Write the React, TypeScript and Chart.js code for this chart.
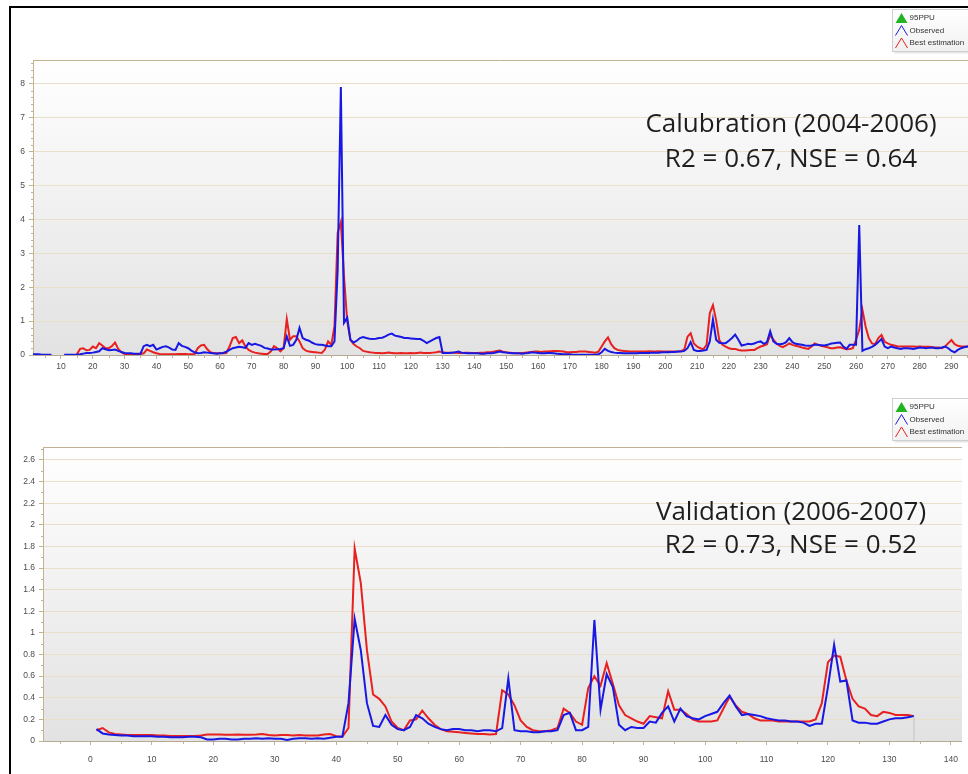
import React, { useEffect, useRef } from "react";
import { Chart, registerables } from "chart.js";

Chart.register(...registerables);

// ---------- Calibration (2004-2006), day 1..296 ----------
const calObserved: (number | null)[] = [
  0.02, 0.02, 0.02, 0.01, 0.01, 0.01, 0.01, null, null, null,
  0.01, 0.01, 0.01, 0.01, 0.01, 0.02, 0.04, 0.06, 0.06, 0.07,
  0.09, 0.11, 0.2, 0.17, 0.14, 0.15, 0.16, 0.12, 0.09, 0.06,
  0.05, 0.05, 0.04, 0.04, 0.04, 0.26, 0.3, 0.26, 0.3, 0.16,
  0.2, 0.24, 0.26, 0.22, 0.16, 0.15, 0.35, 0.27, 0.24, 0.2,
  0.13, 0.08, 0.05, 0.06, 0.08, 0.07, 0.06, 0.05, 0.04, 0.05,
  0.06, 0.1, 0.15, 0.2, 0.22, 0.24, 0.23, 0.21, 0.35, 0.3,
  0.33, 0.3, 0.27, 0.21, 0.19, 0.16, 0.16, 0.17, 0.18, 0.2,
  0.55, 0.27, 0.3, 0.45, 0.8, 0.5, 0.45, 0.42, 0.36, 0.32,
  0.3, 0.3, 0.28, 0.26, 0.26, 0.4, 2.5, 7.9, 0.95, 1.1,
  0.45, 0.37, 0.42, 0.5, 0.53, 0.5, 0.48, 0.47, 0.48, 0.5,
  0.51, 0.55, 0.6, 0.63, 0.57, 0.55, 0.53, 0.5, 0.5, 0.49,
  0.48, 0.47, 0.47, 0.42, 0.35, 0.4, 0.45, 0.5, 0.53, 0.06,
  0.06, 0.06, 0.07, 0.08, 0.1, 0.07, 0.06, 0.05, 0.05, 0.05,
  0.05, 0.04, 0.04, 0.05, 0.05, 0.06, 0.08, 0.1, 0.08, 0.07,
  0.06, 0.05, 0.05, 0.05, 0.04, 0.05, 0.06, 0.08, 0.07, 0.06,
  0.05, 0.05, 0.06, 0.06, 0.05, 0.04, 0.03, 0.02, 0.02, 0.02,
  0.01, 0.01, 0.01, 0.01, 0.01, 0.01, 0.01, 0.01, 0.02, 0.08,
  0.18, 0.12, 0.09, 0.07, 0.06, 0.06, 0.05, 0.05, 0.05, 0.05,
  0.05, 0.06, 0.06, 0.06, 0.06, 0.07, 0.07, 0.07, 0.08, 0.08,
  0.08, 0.09, 0.09, 0.1, 0.1, 0.12, 0.2, 0.38, 0.15, 0.12,
  0.12, 0.13, 0.15, 0.4, 1.05, 0.45, 0.36, 0.35, 0.35, 0.42,
  0.5, 0.6, 0.45, 0.28, 0.3, 0.33, 0.32, 0.34, 0.38, 0.4,
  0.33, 0.38, 0.7, 0.4, 0.33, 0.32, 0.33, 0.38, 0.5, 0.38,
  0.33, 0.32, 0.3, 0.28, 0.27, 0.28, 0.3, 0.3, 0.29, 0.28,
  0.3, 0.33, 0.35, 0.36, 0.37, 0.25, 0.18, 0.3, 0.3, 0.3,
  3.83, 0.12, 0.17, 0.2, 0.24, 0.3, 0.38, 0.47, 0.25, 0.2,
  0.25, 0.22, 0.2, 0.18, 0.2, 0.2, 0.19, 0.18, 0.2, 0.22,
  0.21, 0.2, 0.21, 0.22, 0.2, 0.2, 0.22, 0.25, 0.2, 0.12,
  0.08, 0.15, 0.2, 0.23, 0.25, 0.25,
];

const calBest: (number | null)[] = [
  null, null, null, null, null, null, null, null, null, null,
  null, null, null, null, 0.02, 0.18, 0.2, 0.14, 0.15, 0.25,
  0.2, 0.35, 0.28, 0.2, 0.2, 0.26, 0.37, 0.18, 0.08, 0.03,
  0.03, 0.03, 0.03, 0.03, 0.03, 0.05, 0.16, 0.12, 0.08, 0.05,
  0.03, 0.02, 0.02, 0.02, 0.02, 0.02, 0.03, 0.03, 0.03, 0.02,
  0.02, 0.03, 0.2, 0.28, 0.3, 0.17, 0.08, 0.05, 0.05, 0.05,
  0.05, 0.06, 0.25, 0.5, 0.53, 0.35, 0.43, 0.25, 0.15, 0.1,
  0.07, 0.05, 0.04, 0.03, 0.03, 0.11, 0.26, 0.2, 0.11, 0.2,
  1.06, 0.45, 0.55, 0.55, 0.4, 0.2, 0.13, 0.1, 0.09, 0.08,
  0.07, 0.06, 0.16, 0.4, 0.3, 0.85, 3.6, 3.92, 2.3, 1.0,
  0.45, 0.32, 0.25, 0.2, 0.12, 0.1, 0.08, 0.07, 0.06, 0.06,
  0.05, 0.06, 0.07, 0.06, 0.05, 0.05, 0.06, 0.05, 0.05, 0.06,
  0.05, 0.06, 0.07, 0.06, 0.06, 0.06, 0.07, 0.08, 0.1, 0.08,
  0.07, 0.07, 0.07, 0.07, 0.06, 0.06, 0.07, 0.07, 0.06, 0.06,
  0.06, 0.07, 0.07, 0.08, 0.08, 0.1, 0.12, 0.13, 0.1, 0.08,
  0.07, 0.06, 0.05, 0.05, 0.06, 0.07, 0.08, 0.09, 0.1, 0.1,
  0.09, 0.1, 0.1, 0.11, 0.12, 0.12, 0.11, 0.1, 0.08, 0.08,
  0.09, 0.09, 0.1, 0.1, 0.1, 0.09, 0.08, 0.07, 0.1, 0.25,
  0.4, 0.52, 0.32, 0.2, 0.15, 0.13, 0.12, 0.11, 0.1, 0.1,
  0.1, 0.1, 0.1, 0.1, 0.11, 0.1, 0.1, 0.11, 0.1, 0.1,
  0.1, 0.1, 0.1, 0.1, 0.12, 0.16, 0.54, 0.64, 0.34, 0.25,
  0.2, 0.17, 0.3, 1.23, 1.47, 1.03, 0.44, 0.3, 0.25, 0.2,
  0.18, 0.18, 0.15, 0.13, 0.13, 0.14, 0.15, 0.15, 0.2, 0.25,
  0.28, 0.32, 0.59, 0.45, 0.34, 0.27, 0.23, 0.28, 0.34, 0.3,
  0.27, 0.25, 0.22, 0.2, 0.18, 0.25, 0.34, 0.3, 0.27, 0.25,
  0.23, 0.2, 0.2, 0.22, 0.23, 0.2, 0.17, 0.18, 0.2, 0.45,
  0.74, 1.33, 0.84, 0.5, 0.34, 0.32, 0.5, 0.59, 0.39, 0.34,
  0.3, 0.28, 0.26, 0.25, 0.25, 0.25, 0.25, 0.25, 0.24, 0.25,
  0.24, 0.24, 0.24, 0.23, 0.22, 0.22, 0.2, 0.25, 0.35, 0.44,
  0.32, 0.27, 0.25, 0.25, 0.25, 0.25,
];

// ---------- Validation (2006-2007), day 1..134 ----------
const valObserved: number[] = [
  0.11, 0.07, 0.06, 0.055, 0.05, 0.05, 0.045, 0.045, 0.045, 0.045,
  0.04, 0.04, 0.035, 0.035, 0.035, 0.04, 0.04, 0.035, 0.015, 0.015,
  0.02, 0.02, 0.015, 0.015, 0.02, 0.02, 0.025, 0.02, 0.025, 0.02,
  0.02, 0.01, 0.02, 0.025, 0.025, 0.02, 0.025, 0.02, 0.03, 0.04,
  0.04, 0.35, 1.13, 0.84, 0.35, 0.14, 0.13, 0.24, 0.15, 0.11,
  0.1, 0.13, 0.24, 0.21, 0.16, 0.13, 0.11, 0.1, 0.11, 0.11,
  0.1, 0.1, 0.09, 0.1, 0.1, 0.09, 0.12, 0.58, 0.1, 0.09,
  0.09, 0.08, 0.08, 0.09, 0.09, 0.1, 0.24, 0.26, 0.1, 0.1,
  0.13, 1.12, 0.29, 0.62, 0.5, 0.15, 0.1, 0.13, 0.12, 0.12,
  0.18, 0.17, 0.26, 0.32, 0.18, 0.3, 0.23, 0.21, 0.2, 0.23,
  0.25, 0.27, 0.35, 0.42, 0.32, 0.24, 0.25, 0.24, 0.23, 0.21,
  0.2, 0.19, 0.19, 0.18, 0.18, 0.17, 0.14, 0.16, 0.16, 0.5,
  0.89, 0.55, 0.56, 0.19, 0.17, 0.17, 0.16, 0.16, 0.18, 0.2,
  0.21, 0.21, 0.22, 0.23,
];

const valBest: number[] = [
  0.1, 0.12, 0.08, 0.065, 0.06, 0.055, 0.055, 0.055, 0.055, 0.055,
  0.05, 0.05, 0.046, 0.046, 0.046, 0.046, 0.046, 0.05, 0.06, 0.06,
  0.06, 0.058, 0.058, 0.06, 0.058, 0.058, 0.06, 0.065, 0.055, 0.052,
  0.055, 0.055, 0.052, 0.055, 0.052, 0.05, 0.052, 0.06, 0.065, 0.045,
  0.04, 0.12, 1.78, 1.46, 0.84, 0.43, 0.39, 0.32, 0.18, 0.12,
  0.1, 0.19, 0.2, 0.28, 0.21, 0.15, 0.11, 0.09, 0.085, 0.08,
  0.075, 0.07, 0.065, 0.065, 0.06, 0.065, 0.47, 0.43, 0.33, 0.19,
  0.13, 0.1, 0.09, 0.09, 0.1, 0.12, 0.3, 0.26, 0.18, 0.15,
  0.49, 0.6, 0.51, 0.72, 0.53, 0.33, 0.24, 0.21, 0.18, 0.16,
  0.23, 0.22, 0.21, 0.46, 0.29, 0.29, 0.25, 0.2, 0.18, 0.18,
  0.18, 0.19, 0.3, 0.41, 0.33, 0.27, 0.25, 0.21, 0.19, 0.19,
  0.19, 0.18, 0.18, 0.18, 0.18, 0.18, 0.18, 0.2, 0.35, 0.73,
  0.79, 0.78, 0.56, 0.39, 0.32, 0.3, 0.24, 0.23, 0.27, 0.26,
  0.24, 0.24, 0.24, 0.23,
];

// closing edge of the (very faint) 95PPU band in the validation panel
const valPpuEdgeDay = 134;
const valPpuEdge = [0, 0.23];

const legendNames = ["95PPU", "Observed", "Best estimation"];
const legendColors = ["#22b422", "#1818e4", "#e82020"];
const calTitle = ["Calubration (2004-2006)", "R2 = 0.67, NSE = 0.64"];
const valTitle = ["Validation (2006-2007)", "R2 = 0.73, NSE = 0.52"];

const BLUE = legendColors[1];
const RED = legendColors[2];
const PPU_EDGE = "#c4c4c4";
const GRID = "#e9dfca";
const TAN = "#c2b292";
const TICK_TEXT = "#4c4c4c";
const TICK_FONT = "'Liberation Sans', Arial, sans-serif";
const TITLE_FONT = "'Open Sans', 'Noto Sans', sans-serif";

type Spec = {
  observed: (number | null)[];
  best: (number | null)[];
  ppuDay: number | null;
  ppu: number[];
  xMin: number;
  xMax: number;
  xStep: number;
  xMinor: number;
  yMax: number;
  yStep: number;
  yMinor: number;
  padTop: number;
  yWidth: number;
  xHeight: number;
  xLabelPad: number;
  yLabelPad: number;
  title: string[];
  titleX: number;
  titleY: number;
  titleGap: number;
  legendTop: number;
};

const toPoints = (arr: (number | null)[]) => arr.map((v, i) => ({ x: i + 1, y: v }));

function isMultiple(v: number, step: number) {
  const r = v / step;
  return Math.abs(r - Math.round(r)) < 1e-6;
}

function makeChart(canvas: HTMLCanvasElement, s: Spec) {
  const bg = {
    id: "bgGradient",
    beforeDraw(chart: any) {
      const { ctx, chartArea: a } = chart;
      ctx.save();
      const g = ctx.createLinearGradient(0, a.top, 0, a.bottom);
      g.addColorStop(0, "#ffffff");
      g.addColorStop(1, "#e2e2e2");
      ctx.fillStyle = g;
      ctx.fillRect(a.left, a.top, a.right - a.left, a.bottom - a.top);
      ctx.restore();
    },
  };

  const decor = {
    id: "decor",
    afterDraw(chart: any) {
      const { ctx, chartArea: a } = chart;
      const x = chart.scales.x;
      const y = chart.scales.y;
      ctx.save();
      ctx.lineWidth = 1;
      ctx.strokeStyle = TAN;
      ctx.beginPath();
      ctx.moveTo(a.left, a.top + 0.5);
      ctx.lineTo(a.right, a.top + 0.5);
      ctx.stroke();
      ctx.beginPath();
      for (let k = 1; k * s.yMinor <= s.yMax; k++) {
        const v = k * s.yMinor;
        if (isMultiple(v, s.yStep)) continue;
        const py = Math.round(y.getPixelForValue(v)) + 0.5;
        ctx.moveTo(a.left - 2, py);
        ctx.lineTo(a.left, py);
      }
      const startK = Math.ceil(s.xMin / s.xMinor);
      for (let k = startK; k * s.xMinor <= s.xMax; k++) {
        const v = k * s.xMinor;
        if (isMultiple(v, s.xStep)) continue;
        const px = Math.round(x.getPixelForValue(v)) + 0.5;
        ctx.moveTo(px, a.bottom);
        ctx.lineTo(px, a.bottom + 3);
      }
      ctx.stroke();

      ctx.fillStyle = "#1e1e1e";
      ctx.font = `26px ${TITLE_FONT}`;
      ctx.textAlign = "center";
      ctx.textBaseline = "alphabetic";
      s.title.forEach((t, i) => ctx.fillText(t, s.titleX, s.titleY + i * s.titleGap));

      const lx = 892.5;
      const ly = s.legendTop + 0.5;
      const lw = 90;
      const lh = 42;
      ctx.fillStyle = "rgba(0,0,0,0.10)";
      ctx.fillRect(lx + 2, ly + 2, lw, lh);
      const lg = ctx.createLinearGradient(0, ly, 0, ly + lh);
      lg.addColorStop(0, "#ffffff");
      lg.addColorStop(1, "#f1f1f1");
      ctx.fillStyle = lg;
      ctx.fillRect(lx, ly, lw, lh);
      ctx.strokeStyle = "#cfcfcf";
      ctx.strokeRect(lx, ly, lw, lh);
      ctx.font = `8px ${TICK_FONT}`;
      ctx.textAlign = "left";
      ctx.textBaseline = "middle";
      legendNames.forEach((name, i) => {
        const cy = ly + 8.5 + i * 12.5;
        ctx.beginPath();
        ctx.moveTo(lx + 3, cy + 5);
        ctx.lineTo(lx + 9, cy - 5);
        ctx.lineTo(lx + 15, cy + 5);
        if (i === 0) {
          ctx.closePath();
          ctx.fillStyle = legendColors[i];
          ctx.fill();
        } else {
          ctx.strokeStyle = legendColors[i];
          ctx.lineWidth = 1;
          ctx.stroke();
        }
        ctx.fillStyle = "#333333";
        ctx.fillText(name, lx + 17, cy);
      });
      ctx.restore();
    },
  };

  const ppuData = s.ppuDay === null ? [] : s.ppu.map((v) => ({ x: s.ppuDay, y: v }));

  return new Chart(canvas, {
    type: "line",
    data: {
      datasets: [
        {
          label: legendNames[0],
          data: ppuData,
          borderColor: PPU_EDGE,
          borderWidth: 1,
          pointRadius: 0,
        },
        {
          label: legendNames[1],
          data: toPoints(s.observed),
          borderColor: BLUE,
          borderWidth: 2,
          pointRadius: 0,
          tension: 0,
          spanGaps: false,
        },
        {
          label: legendNames[2],
          data: toPoints(s.best),
          borderColor: RED,
          borderWidth: 2,
          pointRadius: 0,
          tension: 0,
          spanGaps: false,
        },
      ],
    } as any,
    options: {
      responsive: false,
      maintainAspectRatio: false,
      animation: false,
      events: [],
      layout: { padding: { top: s.padTop, left: 0, right: 0, bottom: 0 } },
      plugins: { legend: { display: false }, tooltip: { enabled: false }, title: { display: false } },
      scales: {
        x: {
          type: "linear",
          min: s.xMin,
          max: s.xMax,
          afterFit: (sc: any) => {
            sc.height = s.xHeight;
          },
          ticks: {
            stepSize: s.xStep,
            includeBounds: false,
            autoSkip: false,
            maxRotation: 0,
            minRotation: 0,
            padding: s.xLabelPad,
            color: TICK_TEXT,
            font: { family: TICK_FONT, size: 8.5 },
            callback: (v: any) => String(Math.round(Number(v))),
          },
          grid: { drawOnChartArea: false, drawTicks: true, tickLength: 4, tickColor: TAN },
          border: { color: "#b3a994", width: 1 },
        },
        y: {
          type: "linear",
          min: 0,
          max: s.yMax,
          afterFit: (sc: any) => {
            sc.width = s.yWidth;
          },
          ticks: {
            stepSize: s.yStep,
            includeBounds: false,
            padding: s.yLabelPad,
            color: TICK_TEXT,
            font: { family: TICK_FONT, size: 8.5 },
            callback: (v: any) => String(Math.round(Number(v) * 10) / 10),
          },
          grid: {
            color: (c: any) => (c.tick && c.tick.value === 0 ? "rgba(0,0,0,0)" : GRID),
            tickColor: TAN,
            tickLength: 4,
          },
          border: { color: TAN, width: 1 },
        },
      },
    } as any,
    plugins: [bg, decor],
  });
}

export default function App() {
  const topRef = useRef<HTMLCanvasElement>(null);
  const botRef = useRef<HTMLCanvasElement>(null);

  useEffect(() => {
    const c1 = makeChart(topRef.current!, {
      observed: calObserved,
      best: calBest,
      ppuDay: null,
      ppu: [],
      xMin: 1.2,
      xMax: 295.2,
      xStep: 10,
      xMinor: 5,
      yMax: 8.7,
      yStep: 1,
      yMinor: 0.2,
      padTop: 60,
      yWidth: 33,
      xHeight: 25,
      xLabelPad: 3,
      yLabelPad: 4,
      title: calTitle,
      titleX: 791,
      titleY: 132,
      titleGap: 35,
      legendTop: 9,
    });
    const c2 = makeChart(botRef.current!, {
      observed: valObserved,
      best: valBest,
      ppuDay: valPpuEdgeDay,
      ppu: valPpuEdge,
      xMin: -7.7,
      xMax: 141.8,
      xStep: 10,
      xMinor: 5,
      yMax: 2.72,
      yStep: 0.2,
      yMinor: 0.1,
      padTop: 67,
      yWidth: 43,
      xHeight: 33,
      xLabelPad: 10,
      yLabelPad: 4,
      title: valTitle,
      titleX: 791,
      titleY: 140,
      titleGap: 33,
      legendTop: 18,
    });
    return () => {
      c1.destroy();
      c2.destroy();
    };
  }, []);

  return (
    <div
      style={{
        position: "absolute",
        left: 0,
        top: 0,
        width: 968,
        height: 774,
        overflow: "hidden",
        background: "#ffffff",
      }}
    >
      <div
        style={{
          position: "absolute",
          left: 9,
          top: 6,
          width: 1000,
          height: 800,
          borderTop: "2px solid #000",
          borderLeft: "2px solid #000",
          boxSizing: "border-box",
        }}
      />
      <canvas ref={topRef} width={968} height={380} style={{ position: "absolute", left: 0, top: 0 }} />
      <canvas ref={botRef} width={968} height={394} style={{ position: "absolute", left: 0, top: 380 }} />
    </div>
  );
}
